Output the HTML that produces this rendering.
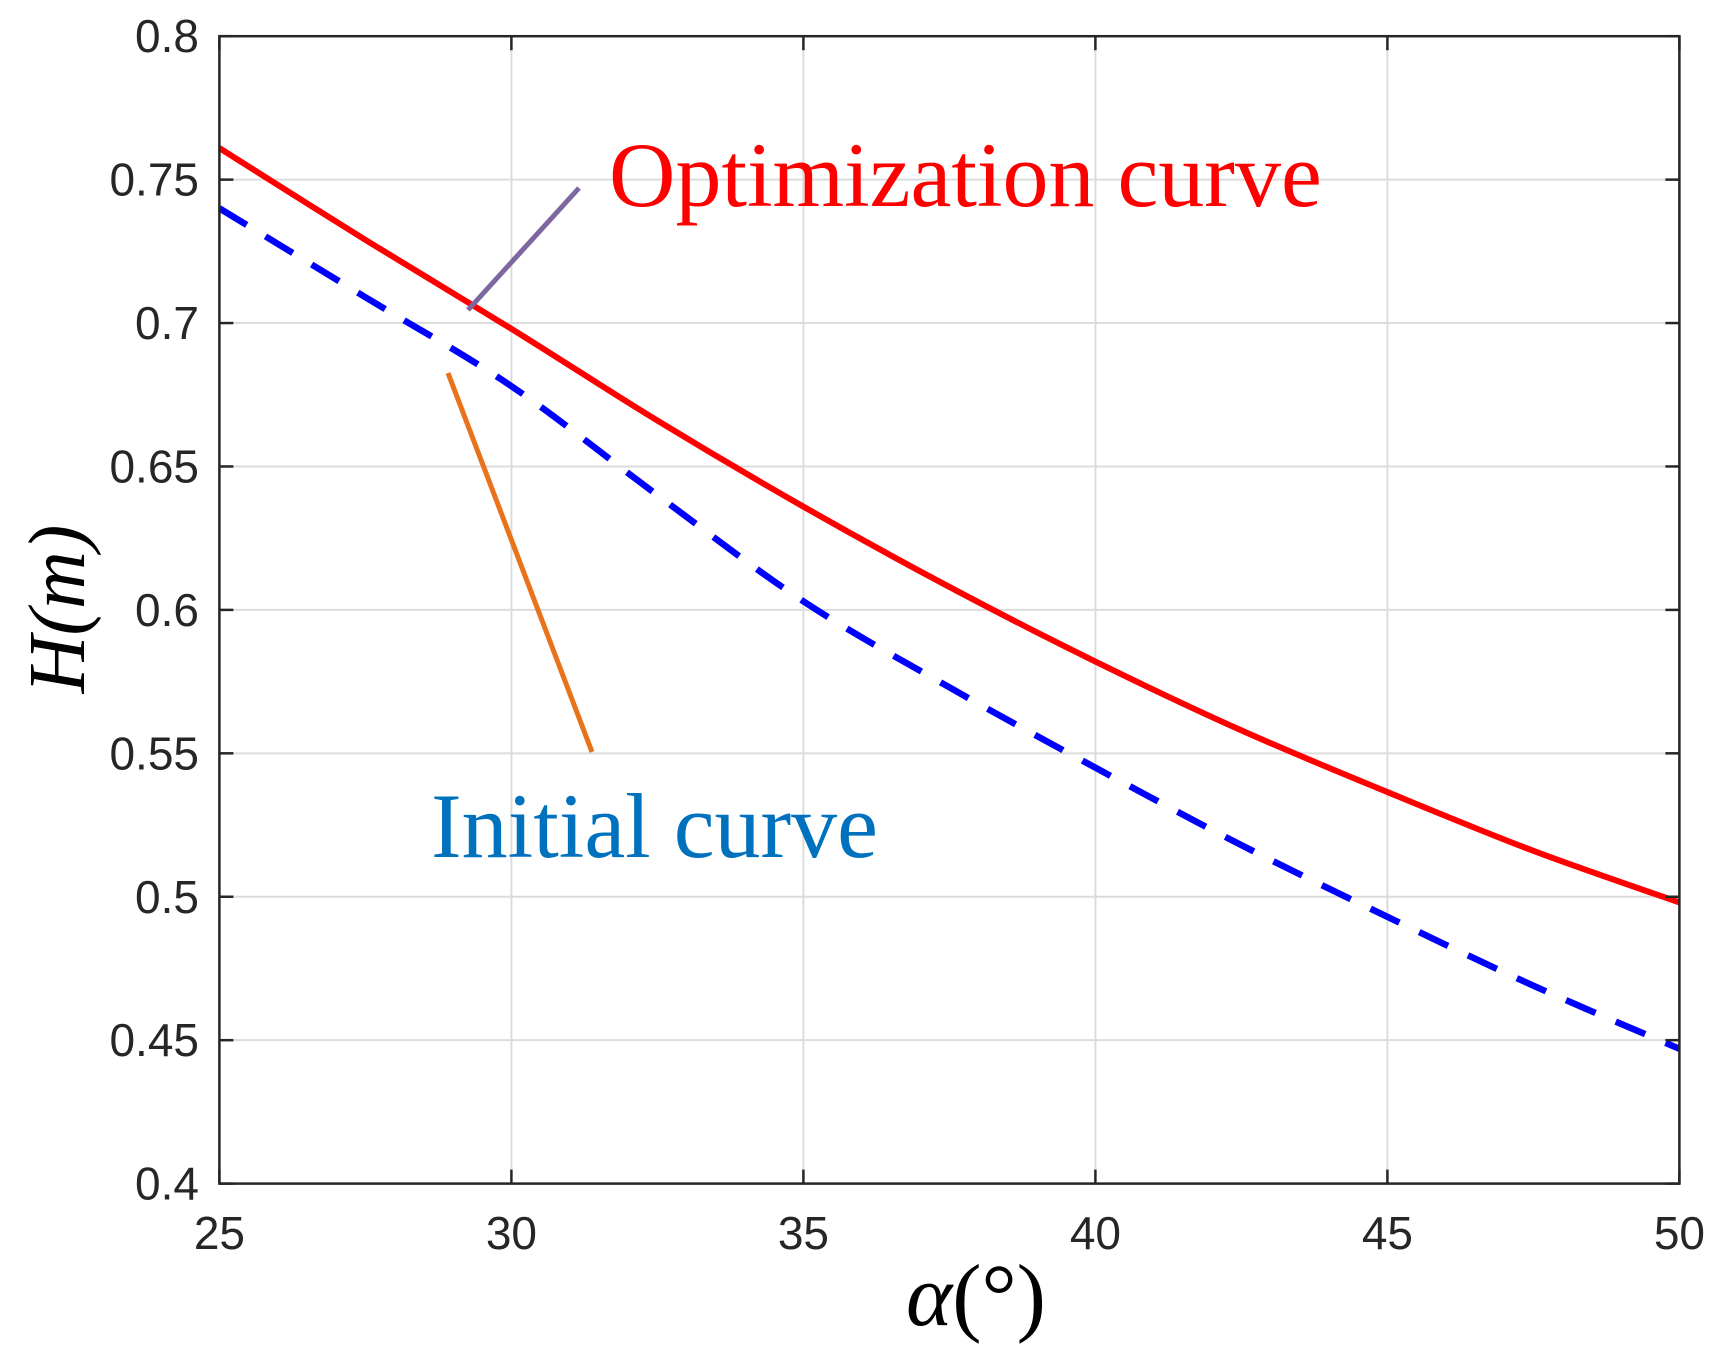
<!DOCTYPE html>
<html><head><meta charset="utf-8"><style>
html,body{margin:0;padding:0;background:#fff;}
svg{display:block;}
</style></head><body>
<svg id="chart" width="1720" height="1353" xmlns="http://www.w3.org/2000/svg">
<rect width="1720" height="1353" fill="#fff"/>
<g id="grid"></g>
<g id="series"></g>
<g id="axes"></g>
<line x1="468" y1="310" x2="579" y2="188" stroke="#7e67a0" stroke-width="5"/>
<line x1="448" y1="373" x2="592" y2="752" stroke="#e8731a" stroke-width="5"/>
<text x="609" y="206" font-family="Liberation Serif, serif" font-size="92" fill="#ff0000">Optimization curve</text>
<text x="431" y="857" font-family="Liberation Serif, serif" font-size="92" fill="#0072bd">Initial curve</text>
<text transform="translate(84,609) rotate(-90)" text-anchor="middle" font-family="Liberation Serif, serif" font-style="italic" font-size="80" fill="#000">H(m)</text>
<text x="976" y="1325" text-anchor="middle" font-family="Liberation Serif, serif" font-size="88" fill="#000"><tspan font-style="italic">α</tspan>(°)</text>
</svg>
<script>
const xTicks=[25,30,35,40,45,50];
const yTicks=[0.4,0.45,0.5,0.55,0.6,0.65,0.7,0.75,0.8];
const yTickLabels=["0.4","0.45","0.5","0.55","0.6","0.65","0.7","0.75","0.8"];
const alphas=[25,27.5,30,32.5,35,37.5,40,42.5,45,47.5,50];
const optimization=[0.761,0.729,0.698,0.666,0.636,0.608,0.582,0.558,0.5365,0.516,0.498];
const initial=[0.740,0.709,0.678,0.640,0.603,0.573,0.545,0.518,0.493,0.469,0.447];
const L=219.4,R=1679.4,T=36.2,B=1183.6;
const X=v=>L+(v-25)/25*(R-L);
const Y=v=>B-(v-0.4)/0.4*(B-T);
const NS="http://www.w3.org/2000/svg";
function mk(tag,parent,attrs){const e=document.createElementNS(NS,tag);for(const k in attrs)e.setAttribute(k,attrs[k]);parent.appendChild(e);return e;}
const grid=document.getElementById('grid'),axes=document.getElementById('axes'),series=document.getElementById('series');
xTicks.forEach(t=>{
 const g=mk('line',grid,{x1:X(t),x2:X(t),y1:T,y2:B,stroke:'#dcdcdc','stroke-width':2});
 
 
 [[B,B-14],[T,T+14]].forEach(p=>{const tk=mk('line',axes,{x1:X(t),x2:X(t),y1:p[0],y2:p[1],stroke:'#262626','stroke-width':2.5});
 
 });
 const lb=mk('text',axes,{x:X(t),y:1249,'text-anchor':'middle','font-family':'Liberation Sans, sans-serif','font-size':46,fill:'#262626'});
 lb.textContent=t;
 
 
});
yTicks.forEach((t,i)=>{
 const g=mk('line',grid,{x1:L,x2:R,y1:Y(t),y2:Y(t),stroke:'#dcdcdc','stroke-width':2});
 
 
 [[L,L+14],[R,R-14]].forEach(p=>{const tk=mk('line',axes,{x1:p[0],x2:p[1],y1:Y(t),y2:Y(t),stroke:'#262626','stroke-width':2.5});
 
 });
 const lb=mk('text',axes,{x:199,y:Y(t)+16,'text-anchor':'end','font-family':'Liberation Sans, sans-serif','font-size':46,fill:'#262626'});
 lb.textContent=yTickLabels[i];
 
 
});
const box=mk('rect',axes,{x:L,y:T,width:R-L,height:B-T,fill:'none',stroke:'#262626','stroke-width':2.5});


function smooth(arr){
 const p=alphas.map((a,i)=>[X(a),Y(arr[i])]);
 let d='M'+p[0][0]+','+p[0][1];
 for(let i=0;i<p.length-1;i++){
  const p0=p[Math.max(0,i-1)],p1=p[i],p2=p[i+1],p3=p[Math.min(p.length-1,i+2)];
  const c1=[p1[0]+(p2[0]-p0[0])/6,p1[1]+(p2[1]-p0[1])/6];
  const c2=[p2[0]-(p3[0]-p1[0])/6,p2[1]-(p3[1]-p1[1])/6];
  d+=' C'+c1[0]+','+c1[1]+' '+c2[0]+','+c2[1]+' '+p2[0]+','+p2[1];
 }
 return d;
}
const bl=mk('path',series,{d:smooth(initial),fill:'none',stroke:'#0000ff','stroke-width':6.5,'stroke-dasharray':'32 22'});


const rl=mk('path',series,{d:smooth(optimization),fill:'none',stroke:'#ff0000','stroke-width':6});


</script>
</body></html>
